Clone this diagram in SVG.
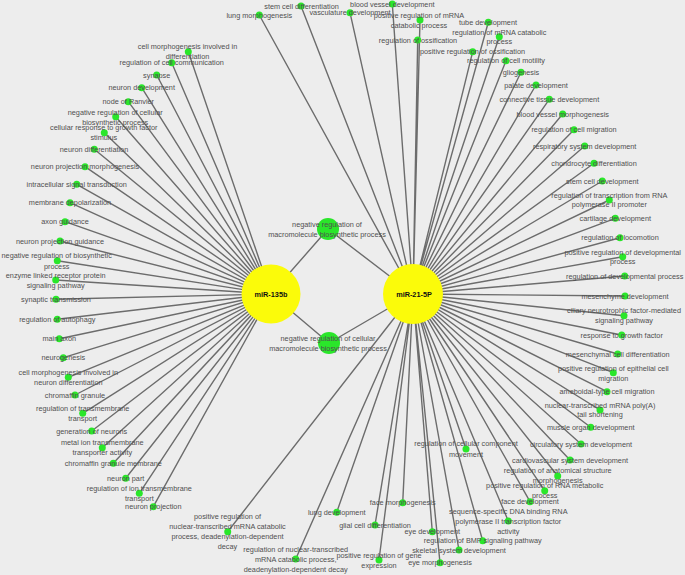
<svg xmlns="http://www.w3.org/2000/svg" width="685" height="575" viewBox="0 0 685 575">
<style>
.bg{fill:#ededed}
.e{stroke:#6c6c6c;stroke-width:1.4;fill:none}
.d{fill:#2ae62a}
.m{fill:#2ae62a}
.h{fill:#fbfb0a}
text{font-family:"Liberation Sans",Arial,sans-serif;font-size:7.3px;fill:#4f4f4f;text-anchor:middle}
.ht{font-weight:bold;fill:#111}
</style>
<rect class="bg" x="0" y="0" width="685" height="575"/>
<g id="connectors">
<path class="e" d="M271 294L328 229M413 294L328 229M271 294L329 343M413 294L329 343"/>
<path class="e" d="M271 294L188.3 51.7M271 294L171.7 62.7M271 294L156.7 75M271 294L141.7 87.7M271 294L128.3 101.7M271 294L115.7 116.7M271 294L104.3 132.7M271 294L94.3 149.3M271 294L85 166.7M271 294L76.7 184.3M271 294L70 202.7M271 294L65 221.7M271 294L60 241M271 294L57.3 260.7M271 294L55.7 280M271 294L56 299.3M271 294L57.3 319.3M271 294L59.3 338.7M271 294L63.3 357.7M271 294L68.3 377.3M271 294L75 395M271 294L82.7 413.3M271 294L91.7 431M271 294L102.3 447.7M271 294L113.3 463.3M271 294L125.7 478.3M271 294L139.3 493.3M271 294L153.3 506.7"/>
<path class="e" d="M413 294L259.3 15M413 294L301 6M413 294L350 12.7M413 294L392.3 4M413 294L420 20M413 294L417.7 40M413 294L488.3 22.3M413 294L499.3 36.7M413 294L472.7 51.7M413 294L506 60.7M413 294L521 72.3M413 294L536 85M413 294L549.3 99.3M413 294L562.7 114M413 294L574 129.7M413 294L584.7 146M413 294L594 163.3M413 294L602.3 181M413 294L609.3 200M413 294L615.3 218.3M413 294L620 237.7M413 294L622.7 256.7M413 294L624.7 276M413 294L625 296M413 294L624 315.7M413 294L621.7 335M413 294L617.7 354M413 294L613.3 372.7M413 294L607 391.7M413 294L600 410M413 294L590.7 427.3M413 294L581 444M413 294L570 460M413 294L557.7 476M413 294L544.7 490.7M413 294L530 501.7M413 294L508.3 521M413 294L482.7 540.7M413 294L459 550M413 294L440 562.7M413 294L432.3 531.7M413 294L466 449M413 294L402.7 502.7M413 294L375 525M413 294L336.7 512.3M413 294L379 560M413 294L295.7 559M413 294L227.7 531.7"/>
</g>
<g id="hub-miR-135b"><circle class="h" cx="271" cy="294" r="29.5"/><text class="ht" x="271" y="296.6">miR-135b</text></g>
<g id="hub-miR-21-5P"><circle class="h" cx="413" cy="294" r="30"/><text class="ht" x="414" y="296.8">miR-21-5P</text></g>
<g id="mid-neg-reg-macromolecule"><circle class="m" cx="328" cy="229" r="11"/><text x="327" y="226.5">negative regulation of</text><text x="327" y="236.5">macromolecule biosynthetic process</text></g>
<g id="mid-neg-reg-cellular-macromolecule"><circle class="m" cx="329" cy="343" r="11"/><text x="328" y="340.8">negative regulation of cellular</text><text x="328" y="350.8">macromolecule biosynthetic process</text></g>
<g id="l01"><circle class="d" cx="188.3" cy="51.7" r="3.5"/><text x="187.5" y="49.2">cell morphogenesis involved in</text><text x="187.5" y="59.2">differentiation</text></g>
<g id="l02"><circle class="d" cx="171.7" cy="62.7" r="3.5"/><text x="171.7" y="65.1">regulation of cell communication</text></g>
<g id="l03"><circle class="d" cx="156.7" cy="75" r="3.5"/><text x="156.7" y="77.5">synapse</text></g>
<g id="l04"><circle class="d" cx="141.7" cy="87.7" r="3.5"/><text x="141.7" y="90.2">neuron development</text></g>
<g id="l05"><circle class="d" cx="128.3" cy="101.7" r="3.5"/><text x="128.3" y="104.2">node of Ranvier</text></g>
<g id="l06"><circle class="d" cx="115.7" cy="116.7" r="3.5"/><text x="115.2" y="114.5">negative regulation of cellular</text><text x="115.2" y="125.2">biosynthetic process</text></g>
<g id="l07"><circle class="d" cx="104.3" cy="132.7" r="3.5"/><text x="103.8" y="129.8">cellular response to growth factor</text><text x="103.8" y="139.8">stimulus</text></g>
<g id="l08"><circle class="d" cx="94.3" cy="149.3" r="3.5"/><text x="94" y="151.8">neuron differentiation</text></g>
<g id="l09"><circle class="d" cx="85" cy="166.7" r="3.5"/><text x="85" y="169.2">neuron projection morphogenesis</text></g>
<g id="l10"><circle class="d" cx="76.7" cy="184.3" r="3.5"/><text x="76.7" y="186.8">intracellular signal transduction</text></g>
<g id="l11"><circle class="d" cx="70" cy="202.7" r="3.5"/><text x="70" y="205.2">membrane depolarization</text></g>
<g id="l12"><circle class="d" cx="65" cy="221.7" r="3.5"/><text x="65" y="224.2">axon guidance</text></g>
<g id="l13"><circle class="d" cx="60" cy="241" r="3.5"/><text x="60" y="243.5">neuron projection guidance</text></g>
<g id="l14"><circle class="d" cx="57.3" cy="260.7" r="3.5"/><text x="56.7" y="258.2">negative regulation of biosynthetic</text><text x="56.7" y="268.5">process</text></g>
<g id="l15"><circle class="d" cx="55.7" cy="280" r="3.5"/><text x="55.7" y="277.8">enzyme linked receptor protein</text><text x="55.7" y="288.2">signaling pathway</text></g>
<g id="l16"><circle class="d" cx="56" cy="299.3" r="3.5"/><text x="56" y="301.8">synaptic transmission</text></g>
<g id="l17"><circle class="d" cx="57.3" cy="319.3" r="3.5"/><text x="57.3" y="321.8">regulation of autophagy</text></g>
<g id="l18"><circle class="d" cx="59.3" cy="338.7" r="3.5"/><text x="59.3" y="341.2">main axon</text></g>
<g id="l19"><circle class="d" cx="63.3" cy="357.7" r="3.5"/><text x="63.3" y="360.2">neurogenesis</text></g>
<g id="l20"><circle class="d" cx="68.3" cy="377.3" r="3.5"/><text x="68.3" y="375.2">cell morphogenesis involved in</text><text x="68.3" y="384.8">neuron differentiation</text></g>
<g id="l21"><circle class="d" cx="75" cy="395" r="3.5"/><text x="75" y="397.5">chromaffin granule</text></g>
<g id="l22"><circle class="d" cx="82.7" cy="413.3" r="3.5"/><text x="82.7" y="411.2">regulation of transmembrane</text><text x="82.7" y="421.2">transport</text></g>
<g id="l23"><circle class="d" cx="91.7" cy="431" r="3.5"/><text x="91.7" y="433.5">generation of neurons</text></g>
<g id="l24"><circle class="d" cx="102.3" cy="447.7" r="3.5"/><text x="102.3" y="445.2">metal ion transmembrane</text><text x="102.3" y="455.2">transporter activity</text></g>
<g id="l25"><circle class="d" cx="113.3" cy="463.3" r="3.5"/><text x="113.3" y="465.8">chromaffin granule membrane</text></g>
<g id="l26"><circle class="d" cx="125.7" cy="478.3" r="3.5"/><text x="125.7" y="480.8">neuron part</text></g>
<g id="l27"><circle class="d" cx="139.3" cy="493.3" r="3.5"/><text x="139.3" y="490.8">regulation of ion transmembrane</text><text x="139.3" y="500.8">transport</text></g>
<g id="l28"><circle class="d" cx="153.3" cy="506.7" r="3.5"/><text x="153.3" y="509.2">neuron projection</text></g>
<g id="r01"><circle class="d" cx="259.3" cy="15" r="3.5"/><text x="259.3" y="17.5">lung morphogenesis</text></g>
<g id="r02"><circle class="d" cx="301" cy="6" r="3.5"/><text x="301.5" y="8.5">stem cell differentiation</text></g>
<g id="r03"><circle class="d" cx="350" cy="12.7" r="3.5"/><text x="350" y="15.2">vasculature development</text></g>
<g id="r04"><circle class="d" cx="392.3" cy="4" r="3.5"/><text x="392.3" y="6.8">blood vessel development</text></g>
<g id="r05"><circle class="d" cx="420" cy="20" r="3.5"/><text x="419" y="17.5">positive regulation of mRNA</text><text x="419" y="27.8">catabolic process</text></g>
<g id="r06"><circle class="d" cx="417.7" cy="40" r="3.5"/><text x="418" y="42.8">regulation of ossification</text></g>
<g id="r07"><circle class="d" cx="488.3" cy="22.3" r="3.5"/><text x="488" y="24.8">tube development</text></g>
<g id="r08"><circle class="d" cx="499.3" cy="36.7" r="3.5"/><text x="499.3" y="34.5">regulation of mRNA catabolic</text><text x="499.3" y="44.2">process</text></g>
<g id="r09"><circle class="d" cx="472.7" cy="51.7" r="3.5"/><text x="472.5" y="54.2">positive regulation of ossification</text></g>
<g id="r10"><circle class="d" cx="506" cy="60.7" r="3.5"/><text x="506" y="63.2">regulation of cell motility</text></g>
<g id="r11"><circle class="d" cx="521" cy="72.3" r="3.5"/><text x="521" y="74.8">gliogenesis</text></g>
<g id="r12"><circle class="d" cx="536" cy="85" r="3.5"/><text x="536" y="87.5">palate development</text></g>
<g id="r13"><circle class="d" cx="549.3" cy="99.3" r="3.5"/><text x="549.3" y="101.8">connective tissue development</text></g>
<g id="r14"><circle class="d" cx="562.7" cy="114" r="3.5"/><text x="562.7" y="116.5">blood vessel morphogenesis</text></g>
<g id="r15"><circle class="d" cx="574" cy="129.7" r="3.5"/><text x="574" y="132.2">regulation of cell migration</text></g>
<g id="r16"><circle class="d" cx="584.7" cy="146" r="3.5"/><text x="584.7" y="148.5">respiratory system development</text></g>
<g id="r17"><circle class="d" cx="594" cy="163.3" r="3.5"/><text x="594" y="165.8">chondrocyte differentiation</text></g>
<g id="r18"><circle class="d" cx="602.3" cy="181" r="3.5"/><text x="602.3" y="183.5">stem cell development</text></g>
<g id="r19"><circle class="d" cx="609.3" cy="200" r="3.5"/><text x="609.3" y="197.5">regulation of transcription from RNA</text><text x="609.3" y="207.2">polymerase II promoter</text></g>
<g id="r20"><circle class="d" cx="615.3" cy="218.3" r="3.5"/><text x="615.3" y="220.8">cartilage development</text></g>
<g id="r21"><circle class="d" cx="620" cy="237.7" r="3.5"/><text x="620" y="240.2">regulation of locomotion</text></g>
<g id="r22"><circle class="d" cx="622.7" cy="256.7" r="3.5"/><text x="622.7" y="254.5">positive regulation of developmental</text><text x="622.7" y="263.8">process</text></g>
<g id="r23"><circle class="d" cx="624.7" cy="276" r="3.5"/><text x="624.7" y="278.5">regulation of developmental process</text></g>
<g id="r24"><circle class="d" cx="625" cy="296" r="3.5"/><text x="625" y="298.5">mesenchyme development</text></g>
<g id="r25"><circle class="d" cx="624" cy="315.7" r="3.5"/><text x="624" y="312.8">ciliary neurotrophic factor-mediated</text><text x="624" y="323.2">signaling pathway</text></g>
<g id="r26"><circle class="d" cx="621.7" cy="335" r="3.5"/><text x="621.7" y="337.5">response to growth factor</text></g>
<g id="r27"><circle class="d" cx="617.7" cy="354" r="3.5"/><text x="617.7" y="356.5">mesenchymal cell differentiation</text></g>
<g id="r28"><circle class="d" cx="613.3" cy="372.7" r="3.5"/><text x="613.3" y="370.8">positive regulation of epithelial cell</text><text x="613.3" y="380.8">migration</text></g>
<g id="r29"><circle class="d" cx="607" cy="391.7" r="3.5"/><text x="607" y="394.2">ameboidal-type cell migration</text></g>
<g id="r30"><circle class="d" cx="600" cy="410" r="3.5"/><text x="600" y="407.5">nuclear-transcribed mRNA poly(A)</text><text x="600" y="417.2">tail shortening</text></g>
<g id="r31"><circle class="d" cx="590.7" cy="427.3" r="3.5"/><text x="590.7" y="429.8">muscle organ development</text></g>
<g id="r32"><circle class="d" cx="581" cy="444" r="3.5"/><text x="581" y="446.5">circulatory system development</text></g>
<g id="r33"><circle class="d" cx="570" cy="460" r="3.5"/><text x="570" y="462.5">cardiovascular system development</text></g>
<g id="r34"><circle class="d" cx="557.7" cy="476" r="3.5"/><text x="557.7" y="473.2">regulation of anatomical structure</text><text x="557.7" y="482.8">morphogenesis</text></g>
<g id="r35"><circle class="d" cx="544.7" cy="490.7" r="3.5"/><text x="544.7" y="487.8">positive regulation of RNA metabolic</text><text x="544.7" y="497.8">process</text></g>
<g id="r36"><circle class="d" cx="530" cy="501.7" r="3.5"/><text x="530" y="504.2">face development</text></g>
<g id="r37"><circle class="d" cx="508.3" cy="521" r="3.5"/><text x="508.3" y="513.5">sequence-specific DNA binding RNA</text><text x="508.3" y="523.8">polymerase II transcription factor</text><text x="508.3" y="533.8">activity</text></g>
<g id="r38"><circle class="d" cx="482.7" cy="540.7" r="3.5"/><text x="482.7" y="543.2">regulation of BMP signaling pathway</text></g>
<g id="r39"><circle class="d" cx="459" cy="550" r="3.5"/><text x="459" y="552.5">skeletal system development</text></g>
<g id="r40"><circle class="d" cx="440" cy="562.7" r="3.5"/><text x="440" y="565.2">eye morphogenesis</text></g>
<g id="r41"><circle class="d" cx="432.3" cy="531.7" r="3.5"/><text x="432.3" y="534.2">eye development</text></g>
<g id="r42"><circle class="d" cx="466" cy="449" r="3.5"/><text x="466" y="446.2">regulation of cellular component</text><text x="466" y="456.5">movement</text></g>
<g id="r43"><circle class="d" cx="402.7" cy="502.7" r="3.5"/><text x="402.7" y="505.2">face morphogenesis</text></g>
<g id="r44"><circle class="d" cx="375" cy="525" r="3.5"/><text x="375" y="527.5">glial cell differentiation</text></g>
<g id="r45"><circle class="d" cx="336.7" cy="512.3" r="3.5"/><text x="336.7" y="514.8">lung development</text></g>
<g id="r46"><circle class="d" cx="379" cy="560" r="3.5"/><text x="379" y="557.8">positive regulation of gene</text><text x="379" y="567.8">expression</text></g>
<g id="r47"><circle class="d" cx="295.7" cy="559" r="3.5"/><text x="295.7" y="552.2">regulation of nuclear-transcribed</text><text x="295.7" y="562.2">mRNA catabolic process,</text><text x="295.7" y="572.2">deadenylation-dependent decay</text></g>
<g id="r48"><circle class="d" cx="227.7" cy="531.7" r="3.5"/><text x="227.5" y="519.2">positive regulation of</text><text x="227.5" y="529.2">nuclear-transcribed mRNA catabolic</text><text x="227.5" y="539.2">process, deadenylation-dependent</text><text x="227.5" y="549.2">decay</text></g>
</svg>
